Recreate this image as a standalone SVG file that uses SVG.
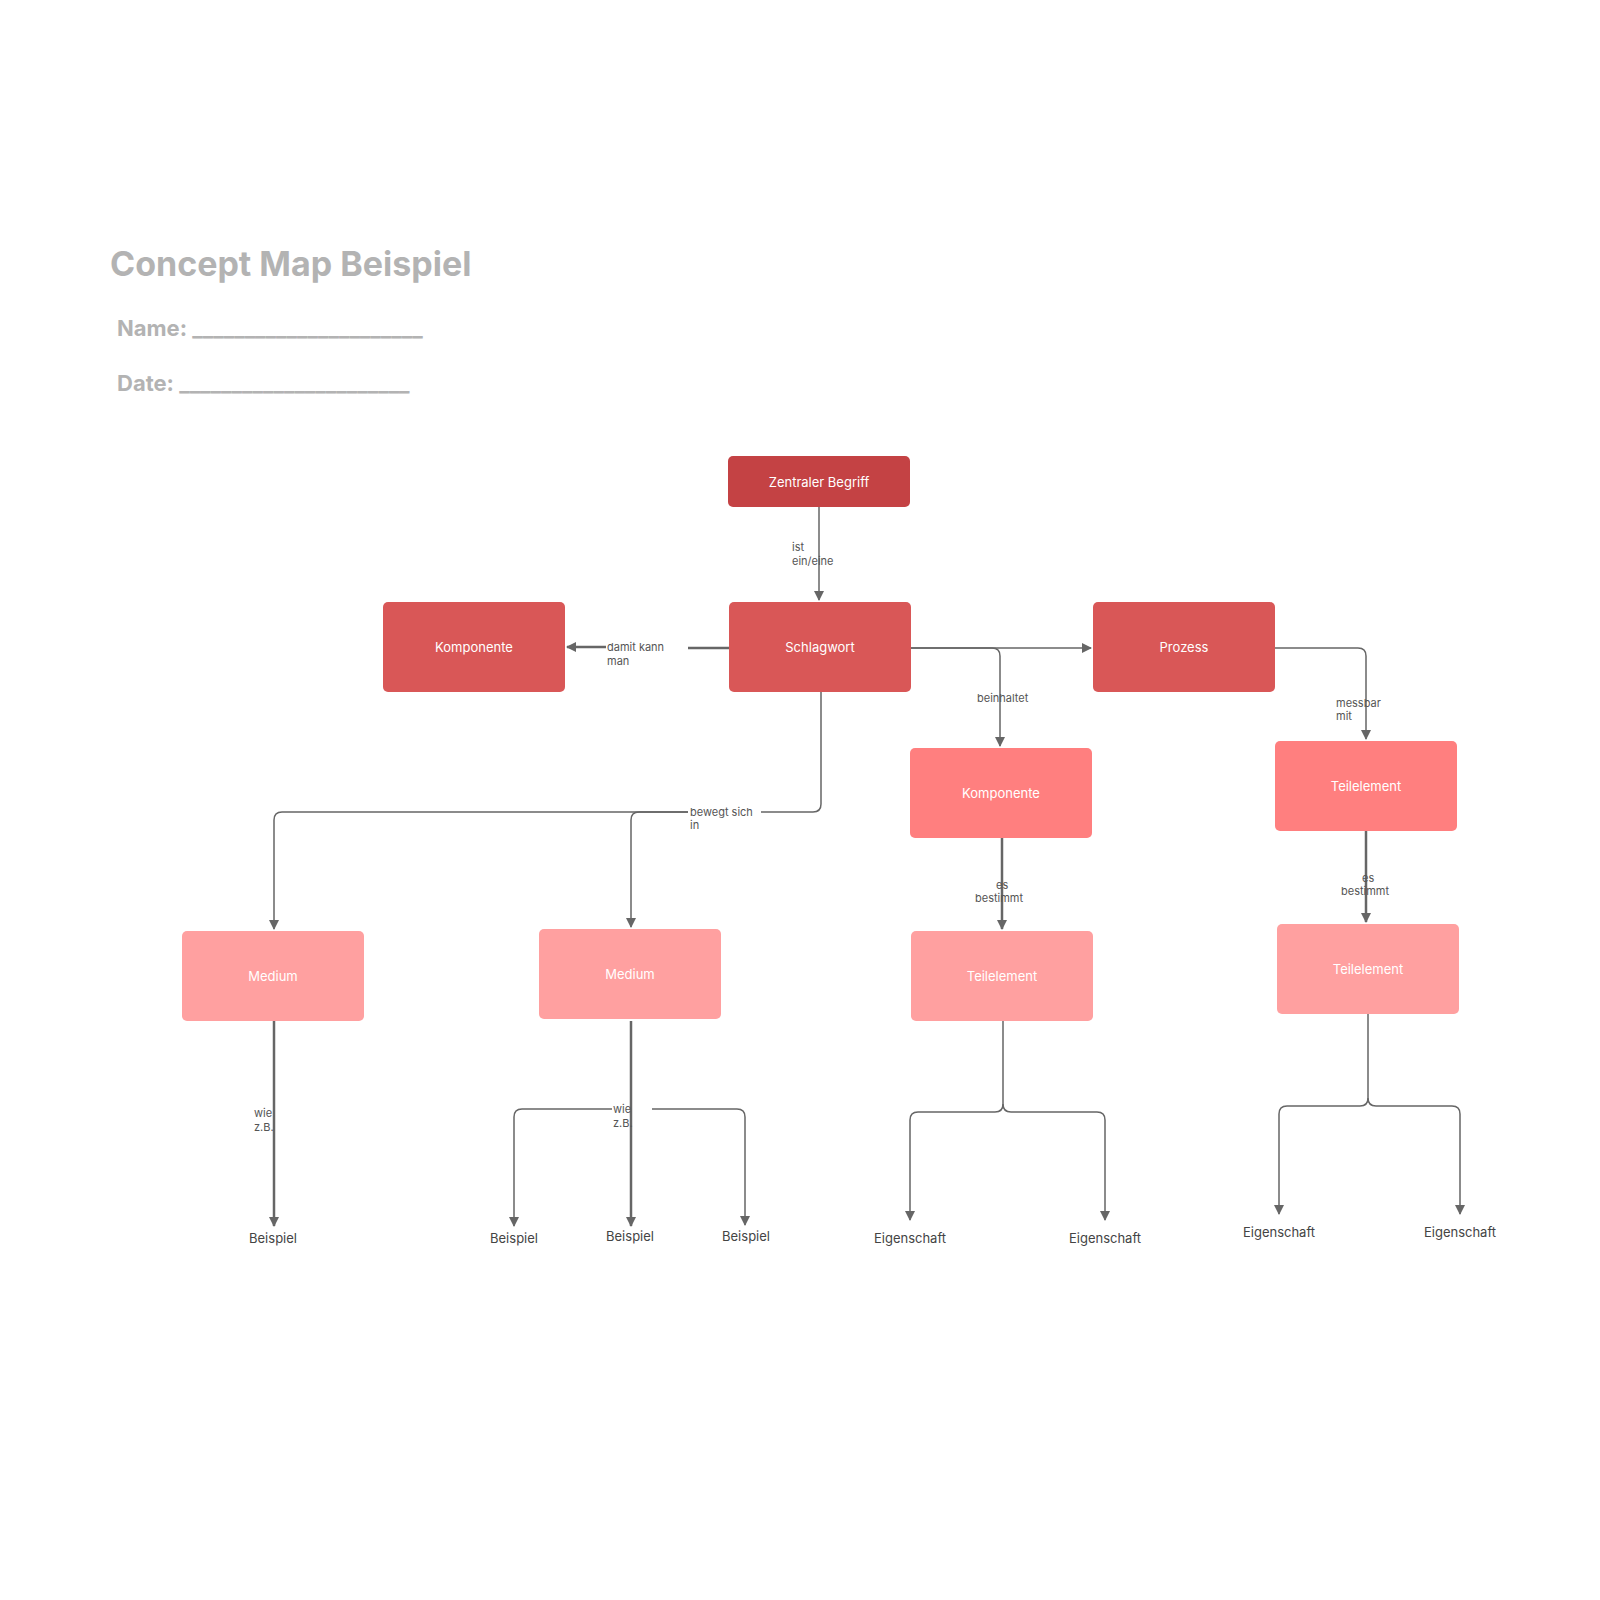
<svg xmlns="http://www.w3.org/2000/svg" width="1600" height="1600" viewBox="0 0 1600 1600">
<style>
text{font-family:Inter,"Noto Sans","Liberation Sans",sans-serif}
.n text{fill:#fff;font-size:13px;text-anchor:middle;dominant-baseline:central}
.c path{fill:none;stroke:#666;stroke-width:1.5}
.c path.t{stroke-width:2.5}
.lb{font-size:11px;fill:#555}
.leaf{font-size:13px;fill:#444;text-anchor:middle}
.d1{fill:#C44244}.d2{fill:#D95757}.d3{fill:#FF7F7F}.d4{fill:#FFA0A0}
</style>
<defs><marker id="a" viewBox="0 0 10 10" refX="9" refY="5" markerWidth="10" markerHeight="12" markerUnits="userSpaceOnUse" orient="auto"><path d="M0,0L10,5L0,10z" fill="#666"/></marker></defs>
<rect width="1600" height="1600" fill="#fff"/>
<g id="header" fill="#B3B3B3" font-weight="bold">
<text x="110" y="276" font-size="34">Concept Map Beispiel</text>
<text x="117" y="336" font-size="22">Name:  ______________________</text>
<text x="117" y="391" font-size="22">Date:  ______________________</text>
</g>
<g class="c" id="connectors">
<path d="M819,507V600" marker-end="url(#a)"/>
<path class="t" d="M729,648H688M606,647H567" marker-end="url(#a)"/>
<path d="M911,648H1091" marker-end="url(#a)"/>
<path d="M911,648H992q8,0 8,8V746" marker-end="url(#a)"/>
<path d="M1275,648H1358q8,0 8,8V739" marker-end="url(#a)"/>
<path d="M821,692V804q0,8 -8,8H761M688,812H282q-8,0 -8,8V929" marker-end="url(#a)"/>
<path d="M688,812H639q-8,0 -8,8V927" marker-end="url(#a)"/>
<path class="t" d="M1002,838V929" marker-end="url(#a)"/>
<path class="t" d="M1366,831V922" marker-end="url(#a)"/>
<path class="t" d="M274,1021V1226" marker-end="url(#a)"/>
<path class="t" d="M631,1021V1226" marker-end="url(#a)"/>
<path d="M612,1109H522q-8,0 -8,8V1226" marker-end="url(#a)"/>
<path d="M652,1109H737q8,0 8,8V1225" marker-end="url(#a)"/>
<path d="M1003,1021V1104q0,8 -8,8H918q-8,0 -8,8V1220" marker-end="url(#a)"/>
<path d="M1003,1104q0,8 8,8H1097q8,0 8,8V1220" marker-end="url(#a)"/>
<path d="M1368,1014V1098q0,8 -8,8H1287q-8,0 -8,8V1214" marker-end="url(#a)"/>
<path d="M1368,1098q0,8 8,8H1452q8,0 8,8V1214" marker-end="url(#a)"/>
<text class="lb" x="792" y="551">ist</text><text class="lb" x="792" y="565">ein/eine</text>
<text class="lb" x="607" y="651">damit kann</text><text class="lb" x="607" y="665">man</text>
<text class="lb" x="977" y="702">beinhaltet</text>
<text class="lb" x="1336" y="707">messbar</text><text class="lb" x="1336" y="720">mit</text>
<text class="lb" x="690" y="816">bewegt sich</text><text class="lb" x="690" y="829">in</text>
<text class="lb" x="996" y="889">es</text><text class="lb" x="975" y="902">bestimmt</text>
<text class="lb" x="1362" y="882">es</text><text class="lb" x="1341" y="895">bestimmt</text>
<text class="lb" x="254" y="1117">wie</text><text class="lb" x="254" y="1131">z.B.</text>
<text class="lb" x="613" y="1113">wie</text><text class="lb" x="613" y="1127">z.B.</text>
</g>
<g class="n" id="n1"><rect class="d1" x="728" y="456" width="182" height="51" rx="5"/><text x="819" y="482">Zentraler Begriff</text></g>
<g class="n" id="n2"><rect class="d2" x="383" y="602" width="182" height="90" rx="5"/><text x="474" y="647">Komponente</text></g>
<g class="n" id="n3"><rect class="d2" x="729" y="602" width="182" height="90" rx="5"/><text x="820" y="647">Schlagwort</text></g>
<g class="n" id="n4"><rect class="d2" x="1093" y="602" width="182" height="90" rx="5"/><text x="1184" y="647">Prozess</text></g>
<g class="n" id="n5"><rect class="d3" x="910" y="748" width="182" height="90" rx="5"/><text x="1001" y="793">Komponente</text></g>
<g class="n" id="n6"><rect class="d3" x="1275" y="741" width="182" height="90" rx="5"/><text x="1366" y="786">Teilelement</text></g>
<g class="n" id="n7"><rect class="d4" x="182" y="931" width="182" height="90" rx="5"/><text x="273" y="976">Medium</text></g>
<g class="n" id="n8"><rect class="d4" x="539" y="929" width="182" height="90" rx="5"/><text x="630" y="974">Medium</text></g>
<g class="n" id="n9"><rect class="d4" x="911" y="931" width="182" height="90" rx="5"/><text x="1002" y="976">Teilelement</text></g>
<g class="n" id="n10"><rect class="d4" x="1277" y="924" width="182" height="90" rx="5"/><text x="1368" y="969">Teilelement</text></g>
<g id="leaves">
<text class="leaf" x="273" y="1243">Beispiel</text>
<text class="leaf" x="514" y="1243">Beispiel</text>
<text class="leaf" x="630" y="1241">Beispiel</text>
<text class="leaf" x="746" y="1241">Beispiel</text>
<text class="leaf" x="910" y="1243">Eigenschaft</text>
<text class="leaf" x="1105" y="1243">Eigenschaft</text>
<text class="leaf" x="1279" y="1237">Eigenschaft</text>
<text class="leaf" x="1460" y="1237">Eigenschaft</text>
</g>
</svg>
